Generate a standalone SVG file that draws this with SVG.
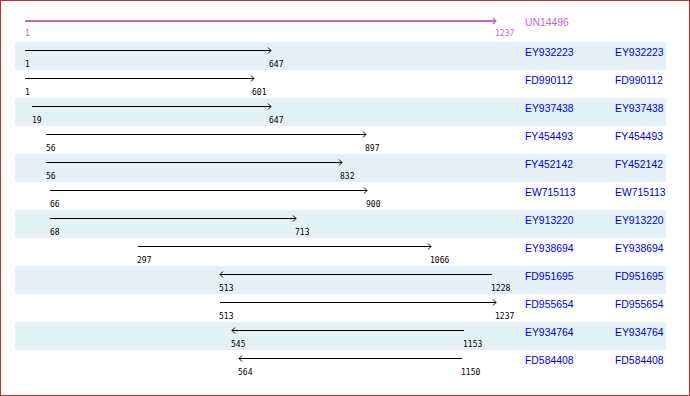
<svg xmlns="http://www.w3.org/2000/svg" width="690" height="396" viewBox="0 0 690 396">
<style>
.stripe{fill:#e3f0f5}
.ln{stroke:#000;stroke-width:1;fill:none}
.num{font-family:"DejaVu Sans Mono","Liberation Mono",monospace;font-size:8px;fill:#000}
.nm{font-family:"Liberation Sans",Arial,sans-serif;font-size:10.4px;fill:#0000e0}
.pu{stroke:#c864c8;fill:none}
</style>
<rect x="0.5" y="0.5" width="689" height="395" fill="#fff" stroke="#c03030"/>
<g id="stripes">
<rect class="stripe" x="15" y="42" width="651" height="28"/>
<rect class="stripe" x="15" y="98" width="651" height="28"/>
<rect class="stripe" x="15" y="154" width="651" height="28"/>
<rect class="stripe" x="15" y="210" width="651" height="28"/>
<rect class="stripe" x="15" y="266" width="651" height="28"/>
<rect class="stripe" x="15" y="322" width="651" height="28"/>
</g>
<g id="connectors">
<path class="pu" stroke-width="2" d="M25 21H496"/>
<path class="pu" stroke-width="1.2" d="M493 18L496 21L493 24"/>
<path class="ln" d="M25 50.5H271M268 47.5L271 50.5L268 53.5"/>
<path class="ln" d="M25 78.5H254M251 75.5L254 78.5L251 81.5"/>
<path class="ln" d="M32 106.5H271M268 103.5L271 106.5L268 109.5"/>
<path class="ln" d="M46 134.5H366M363 131.5L366 134.5L363 137.5"/>
<path class="ln" d="M46 162.5H342M339 159.5L342 162.5L339 165.5"/>
<path class="ln" d="M50 190.5H367M364 187.5L367 190.5L364 193.5"/>
<path class="ln" d="M50 218.5H296M293 215.5L296 218.5L293 221.5"/>
<path class="ln" d="M138 246.5H431M428 243.5L431 246.5L428 249.5"/>
<path class="ln" d="M220 274.5H492M223 271.5L220 274.5L223 277.5"/>
<path class="ln" d="M220 302.5H496M493 299.5L496 302.5L493 305.5"/>
<path class="ln" d="M232 330.5H464M235 327.5L232 330.5L235 333.5"/>
<path class="ln" d="M239 358.5H462M242 355.5L239 358.5L242 361.5"/>
</g>
<g id="n0"><text class="num" x="25" y="36" style="fill:#c864c8">1</text><text class="num" x="495" y="36" style="fill:#c864c8">1237</text><text class="nm" x="525" y="26" style="fill:#c864c8">UN14496</text></g>
<g id="n1"><text class="num" x="25" y="67">1</text><text class="num" x="269" y="67">647</text><text class="nm" x="525" y="56">EY932223</text><text class="nm" x="615" y="56">EY932223</text></g>
<g id="n2"><text class="num" x="25" y="95">1</text><text class="num" x="252" y="95">601</text><text class="nm" x="525" y="84">FD990112</text><text class="nm" x="615" y="84">FD990112</text></g>
<g id="n3"><text class="num" x="32" y="123">19</text><text class="num" x="269" y="123">647</text><text class="nm" x="525" y="112">EY937438</text><text class="nm" x="615" y="112">EY937438</text></g>
<g id="n4"><text class="num" x="46" y="151">56</text><text class="num" x="365" y="151">897</text><text class="nm" x="525" y="140">FY454493</text><text class="nm" x="615" y="140">FY454493</text></g>
<g id="n5"><text class="num" x="46" y="179">56</text><text class="num" x="340" y="179">832</text><text class="nm" x="525" y="168">FY452142</text><text class="nm" x="615" y="168">FY452142</text></g>
<g id="n6"><text class="num" x="50" y="207">66</text><text class="num" x="366" y="207">900</text><text class="nm" x="525" y="196">EW715113</text><text class="nm" x="615" y="196">EW715113</text></g>
<g id="n7"><text class="num" x="50" y="235">68</text><text class="num" x="295" y="235">713</text><text class="nm" x="525" y="224">EY913220</text><text class="nm" x="615" y="224">EY913220</text></g>
<g id="n8"><text class="num" x="137" y="263">297</text><text class="num" x="430" y="263">1066</text><text class="nm" x="525" y="252">EY938694</text><text class="nm" x="615" y="252">EY938694</text></g>
<g id="n9"><text class="num" x="219" y="291">513</text><text class="num" x="491" y="291">1228</text><text class="nm" x="525" y="280">FD951695</text><text class="nm" x="615" y="280">FD951695</text></g>
<g id="n10"><text class="num" x="219" y="319">513</text><text class="num" x="495" y="319">1237</text><text class="nm" x="525" y="308">FD955654</text><text class="nm" x="615" y="308">FD955654</text></g>
<g id="n11"><text class="num" x="231" y="347">545</text><text class="num" x="463" y="347">1153</text><text class="nm" x="525" y="336">EY934764</text><text class="nm" x="615" y="336">EY934764</text></g>
<g id="n12"><text class="num" x="238" y="375">564</text><text class="num" x="461" y="375">1150</text><text class="nm" x="525" y="364">FD584408</text><text class="nm" x="615" y="364">FD584408</text></g>
</svg>
